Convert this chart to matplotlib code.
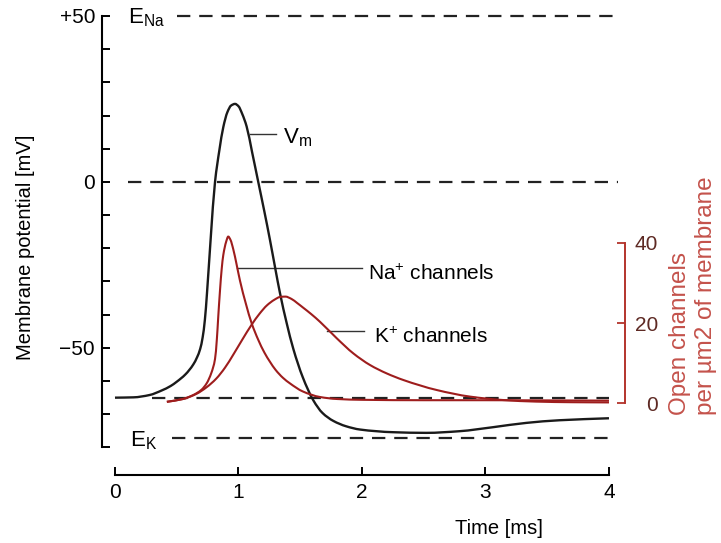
import matplotlib
matplotlib.use("Agg")
import matplotlib.pyplot as plt
import numpy as np
from matplotlib.path import Path
from matplotlib.patches import PathPatch

plt.rcParams["font.family"] = ["Liberation Sans", "DejaVu Sans"]
plt.rcParams["mathtext.fontset"] = "custom"
plt.rcParams["mathtext.rm"] = "Liberation Sans"
plt.rcParams["mathtext.it"] = "Liberation Sans"

# membrane potential (mV) over time (ms)
vm_t = [0.0, 0.15, 0.28, 0.38, 0.45, 0.50, 0.57, 0.634, 0.665, 0.69, 0.71, 0.728, 0.745,
        0.775, 0.810, 0.845, 0.877, 0.91, 0.94, 0.972, 1.0, 1.03, 1.066, 1.11, 1.16,
        1.21, 1.255, 1.30, 1.336, 1.39, 1.444, 1.52, 1.606, 1.68, 1.768, 1.87, 1.984,
        2.25, 2.52, 2.79, 3.06, 3.33, 3.60, 4.0]
vm_v = [-65.0, -64.9, -64.2, -62.8, -61.5, -60.2, -58.0, -55.0, -52.8, -50.3, -46.8, -41.5, -33.5,
        -17.0, 0.0, 9.5, 16.5, 21.0, 23.0, 23.5, 22.8, 20.5, 16.7, 9.0, 0.0,
        -9.0, -17.5, -26.5, -33.5, -42.5, -50.3, -58.8, -65.8, -69.6, -72.0, -73.6, -74.6,
        -75.4, -75.6, -75.1, -73.9, -72.6, -71.8, -71.2]

# open channels per um2
na_t = [0.42, 0.55, 0.634, 0.70, 0.742, 0.78, 0.81, 0.825, 0.836, 0.85, 0.864, 0.877,
        0.90, 0.917, 0.935, 0.958, 0.985, 1.012, 1.06, 1.107, 1.16, 1.21, 1.255, 1.30,
        1.36, 1.417, 1.52, 1.66, 1.8, 2.0, 2.5, 3.0, 3.5, 4.0]
na_open = [0.3, 1.0, 2.0, 3.3, 4.9, 7.5, 11.0, 16.0, 21.5, 28.0, 33.5, 37.0,
           40.3, 41.6, 40.8, 38.4, 34.6, 30.6, 24.8, 19.9, 15.8, 12.6, 10.3, 8.3,
           6.3, 4.9, 2.9, 1.5, 1.0, 0.8, 0.7, 0.7, 0.65, 0.6]

k_t = [0.42, 0.55, 0.66, 0.74, 0.82, 0.89, 0.958, 1.03, 1.107, 1.17, 1.23, 1.29,
       1.336, 1.38, 1.43, 1.475, 1.525, 1.59, 1.66, 1.795, 1.93, 2.065, 2.2, 2.335, 2.605,
       2.875, 3.14, 3.41, 3.7, 4.0]
k_open = [0.3, 1.0, 2.3, 3.9, 6.1, 8.8, 12.1, 15.8, 19.6, 22.3, 24.4, 25.8,
          26.5, 26.6, 26.0, 25.0, 23.8, 22.2, 20.3, 16.2, 12.4, 9.5, 7.4, 5.75, 3.25,
          1.6, 0.75, 0.35, 0.2, 0.15]

E_NA = 50
E_K = -77
V_REST = -65

mv_ticks = list(range(-80, 51, 10))
mv_labels = ["+50" if v == 50 else "0" if v == 0 else "\u221250" if v == -50 else "" for v in mv_ticks]
time_ticks = [0, 1, 2, 3, 4]
chan_ticks = [0, 20, 40]

red = "#b3342c"
curve_red = "#9e1d1d"
label_red = "#c4524b"
tick_red = "#5e2a24"


def smooth_line(axis, xs, ys, **kw):
    # draw the read points as a smooth curve (monotone cubic segments)
    x = np.asarray(xs, float)
    y = np.asarray(ys, float)
    h = np.diff(x)
    d = np.diff(y) / h
    m = np.zeros_like(y)
    m[0], m[-1] = d[0], d[-1]
    for k in range(1, len(x) - 1):
        if d[k - 1] * d[k] > 0:
            w1 = 2 * h[k] + h[k - 1]
            w2 = h[k] + 2 * h[k - 1]
            m[k] = (w1 + w2) / (w1 / d[k - 1] + w2 / d[k])
    verts = [(x[0], y[0])]
    codes = [Path.MOVETO]
    for k in range(len(x) - 1):
        verts += [(x[k] + h[k] / 3, y[k] + m[k] * h[k] / 3),
                  (x[k + 1] - h[k] / 3, y[k + 1] - m[k + 1] * h[k] / 3),
                  (x[k + 1], y[k + 1])]
        codes += [Path.CURVE4] * 3
    axis.add_patch(PathPatch(Path(verts, codes), fill=False, **kw))


fig = plt.figure(figsize=(7.21, 5.43), dpi=100)
ax = fig.add_axes([0.1415, 0.1252, 0.7254, 0.8638])
ax.set_xlim(-0.105, 4.13)
ax.set_ylim(-88.3, 53.0)

# reference levels
dash = (0, (6, 4))
ax.hlines(E_NA, 0.50, 4.07, colors="#222222", linestyles=dash, linewidth=1.6)
ax.hlines(0, 0.105, 4.07, colors="#222222", linestyles=dash, linewidth=1.6)
ax.hlines(V_REST, 0.30, 4.0, colors="#222222", linestyles=dash, linewidth=1.6)
ax.hlines(E_K, 0.46, 4.0, colors="#222222", linestyles=dash, linewidth=1.6)

smooth_line(ax, vm_t, vm_v, edgecolor="#1a1a1a", linewidth=1.7, zorder=3)

for side in ["top", "right"]:
    ax.spines[side].set_visible(False)
ax.spines["left"].set_bounds(-80, 50)
ax.spines["bottom"].set_bounds(0, 4)
ax.spines["left"].set_linewidth(1.5)
ax.spines["bottom"].set_linewidth(1.5)
ax.set_yticks(mv_ticks)
ax.set_yticklabels(mv_labels)
ax.set_xticks(time_ticks)
ax.tick_params(axis="y", direction="in", length=6, width=1.4, pad=5, labelsize=15)
ax.tick_params(axis="x", direction="in", length=6, width=1.4, pad=6, labelsize=15)

ax.text(0.105, E_NA - 2.4, "E$_{\\rm Na}$", fontsize=16, va="baseline", ha="left")
ax.text(0.12, E_K - 2.6, "E$_{\\rm K}$", fontsize=16, va="baseline", ha="left")

# annotations
ax.plot([1.09, 1.30], [14.5, 14.5], color="#333333", linewidth=1)
ax.text(1.36, 11.7, "V$_{\\rm m}$", fontsize=16, va="baseline")
ax.plot([0.99, 2.0], [-26, -26], color="#333333", linewidth=1)
ax.text(2.05, -29.5, "Na$^{+}$ channels", fontsize=15, va="baseline")
ax.plot([1.72, 2.02], [-45, -45], color="#333333", linewidth=1)
ax.text(2.1, -48.5, "K$^{+}$ channels", fontsize=15, va="baseline")

ax.text(0.759, -0.094, "Time [ms]", transform=ax.transAxes, fontsize=14.5,
        ha="center", va="top")
ax.text(-0.147, 0.486, "Membrane potential [mV]", transform=ax.transAxes,
        fontsize=14.5, rotation=90, ha="center", va="center")

ax2 = ax.twinx()
ax2.set_ylim(-18, 99.25)
smooth_line(ax2, na_t, na_open, edgecolor=curve_red, linewidth=1.5, zorder=3)
smooth_line(ax2, k_t, k_open, edgecolor=curve_red, linewidth=1.5, zorder=3)
for side in ["top", "left", "bottom"]:
    ax2.spines[side].set_visible(False)
ax2.spines["right"].set_bounds(0, 40)
ax2.spines["right"].set_color(red)
ax2.spines["right"].set_linewidth(1.4)
ax2.set_yticks(chan_ticks)
ax2.tick_params(axis="y", direction="in", length=6, width=1.3, color=red,
                labelcolor=tick_red, pad=24, labelsize=15)
for lab in ax2.get_yticklabels():
    lab.set_ha("right")

fig.text(693 / 721, 1 - 415 / 543, "Open channels\nper \u00b5m2 of membrane",
         rotation=90, ha="center", va="bottom", multialignment="left",
         color=label_red, fontsize=17.5, linespacing=1.2)

fig.savefig("out.png", dpi=100)
